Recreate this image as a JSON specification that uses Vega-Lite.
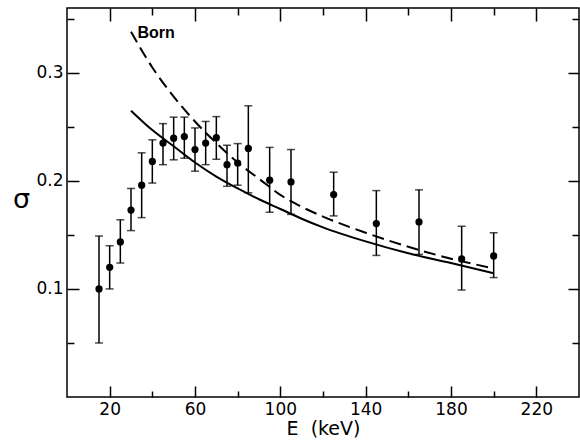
{
  "$schema": "https://vega.github.io/schema/vega-lite/v6.json",
  "width": 512,
  "height": 389,
  "autosize": {"type": "none"},
  "padding": {"left": 67, "top": 8, "right": 1, "bottom": 43},
  "background": "white",
  "config": {
    "view": {"stroke": "black", "strokeWidth": 1.5},
    "axis": {"domain": false, "grid": false, "tickColor": "black", "tickWidth": 1.5, "labelColor": "black", "labelFont": "DejaVu Sans", "labelFontSize": 17, "titleColor": "black", "titleFont": "DejaVu Sans", "titleFontWeight": "normal", "labelFlush": false, "labelOverlap": false}
  },
  "datasets": {
    "pts": [
      {"E": 15, "s": 0.100, "lo": 0.050, "hi": 0.149},
      {"E": 20, "s": 0.120, "lo": 0.100, "hi": 0.140},
      {"E": 25, "s": 0.1435, "lo": 0.124, "hi": 0.164},
      {"E": 30, "s": 0.173, "lo": 0.154, "hi": 0.193},
      {"E": 35, "s": 0.196, "lo": 0.166, "hi": 0.226},
      {"E": 40, "s": 0.218, "lo": 0.198, "hi": 0.238},
      {"E": 45, "s": 0.235, "lo": 0.215, "hi": 0.253},
      {"E": 50, "s": 0.2395, "lo": 0.2195, "hi": 0.259},
      {"E": 55, "s": 0.241, "lo": 0.221, "hi": 0.259},
      {"E": 60, "s": 0.229, "lo": 0.209, "hi": 0.249},
      {"E": 65, "s": 0.235, "lo": 0.215, "hi": 0.255},
      {"E": 70, "s": 0.240, "lo": 0.220, "hi": 0.2595},
      {"E": 75, "s": 0.215, "lo": 0.195, "hi": 0.233},
      {"E": 80, "s": 0.2165, "lo": 0.196, "hi": 0.2345},
      {"E": 85, "s": 0.230, "lo": 0.189, "hi": 0.2695},
      {"E": 95, "s": 0.2007, "lo": 0.171, "hi": 0.231},
      {"E": 105, "s": 0.199, "lo": 0.169, "hi": 0.229},
      {"E": 125, "s": 0.1873, "lo": 0.1676, "hi": 0.208},
      {"E": 145, "s": 0.1605, "lo": 0.131, "hi": 0.191},
      {"E": 165, "s": 0.162, "lo": 0.132, "hi": 0.1917},
      {"E": 185, "s": 0.1278, "lo": 0.099, "hi": 0.158},
      {"E": 200, "s": 0.1306, "lo": 0.1105, "hi": 0.152}
    ],
    "curves": [
      {"curve": "exact", "E": 30, "s": 0.265},
      {"curve": "exact", "E": 40, "s": 0.247},
      {"curve": "exact", "E": 50, "s": 0.232},
      {"curve": "exact", "E": 60, "s": 0.217},
      {"curve": "exact", "E": 70, "s": 0.204},
      {"curve": "exact", "E": 80, "s": 0.193},
      {"curve": "exact", "E": 90, "s": 0.183},
      {"curve": "exact", "E": 100, "s": 0.174},
      {"curve": "exact", "E": 110, "s": 0.165},
      {"curve": "exact", "E": 120, "s": 0.157},
      {"curve": "exact", "E": 140, "s": 0.144},
      {"curve": "exact", "E": 160, "s": 0.133},
      {"curve": "exact", "E": 180, "s": 0.124},
      {"curve": "exact", "E": 200, "s": 0.1145},
      {"curve": "Born", "E": 30, "s": 0.338},
      {"curve": "Born", "E": 40, "s": 0.305},
      {"curve": "Born", "E": 50, "s": 0.278},
      {"curve": "Born", "E": 60, "s": 0.255},
      {"curve": "Born", "E": 70, "s": 0.235},
      {"curve": "Born", "E": 80, "s": 0.217},
      {"curve": "Born", "E": 90, "s": 0.202},
      {"curve": "Born", "E": 100, "s": 0.187},
      {"curve": "Born", "E": 110, "s": 0.176},
      {"curve": "Born", "E": 120, "s": 0.167},
      {"curve": "Born", "E": 140, "s": 0.152},
      {"curve": "Born", "E": 160, "s": 0.139},
      {"curve": "Born", "E": 180, "s": 0.128},
      {"curve": "Born", "E": 200, "s": 0.119}
    ],
    "lbl": [{"E": 33, "s": 0.3365, "text": "Born"}]
  },
  "resolve": {"axis": {"x": "independent", "y": "independent"}},
  "layer": [
    {
      "data": {"name": "curves"},
      "transform": [{"filter": "datum.curve == 'exact'"}],
      "mark": {"type": "line", "color": "black", "strokeWidth": 2, "interpolate": "monotone"},
      "encoding": {
        "x": {"field": "E", "type": "quantitative", "scale": {"domain": [0, 240], "nice": false, "zero": false},
          "axis": {"orient": "bottom", "values": [20, 60, 100, 140, 180, 220], "tickSize": -11, "labelPadding": 15, "title": "E\u00a0\u00a0(keV)", "titleFontSize": 19, "titleY": 37, "titleBaseline": "alphabetic"}},
        "y": {"field": "s", "type": "quantitative", "scale": {"domain": [0, 0.36], "nice": false, "zero": false},
          "axis": {"orient": "left", "values": [0.1, 0.2, 0.3], "format": ".1f", "tickSize": -12, "labelPadding": 16, "title": "σ", "titleAngle": 0, "titleX": -46, "titleY": 191, "titleAlign": "center", "titleBaseline": "middle", "titleFontSize": 27}}
      }
    },
    {
      "data": {"name": "curves"},
      "transform": [{"filter": "datum.curve == 'Born'"}],
      "mark": {"type": "line", "color": "black", "strokeWidth": 2, "strokeDash": [12, 6], "interpolate": "monotone"},
      "encoding": {
        "x": {"field": "E", "type": "quantitative", "scale": {"domain": [0, 240], "nice": false, "zero": false},
          "axis": {"orient": "bottom", "values": [40, 80, 120, 160, 200], "tickSize": -6, "labels": false, "title": null}},
        "y": {"field": "s", "type": "quantitative", "scale": {"domain": [0, 0.36], "nice": false, "zero": false},
          "axis": {"orient": "left", "values": [0.05, 0.15, 0.25, 0.35], "tickSize": -7, "labels": false, "title": null}}
      }
    },
    {
      "data": {"name": "pts"},
      "mark": {"type": "rule", "color": "black", "strokeWidth": 1.5},
      "encoding": {
        "x": {"field": "E", "type": "quantitative", "scale": {"domain": [0, 240], "nice": false, "zero": false},
          "axis": {"orient": "top", "values": [20, 60, 100, 140, 180, 220], "tickSize": -13, "labels": false, "title": null}},
        "y": {"field": "lo", "type": "quantitative", "scale": {"domain": [0, 0.36], "nice": false, "zero": false},
          "axis": {"orient": "right", "values": [0.1, 0.2, 0.3], "tickSize": -11, "labels": false, "title": null}},
        "y2": {"field": "hi"}
      }
    },
    {
      "data": {"name": "pts"},
      "transform": [{"fold": ["lo", "hi"], "as": ["end", "v"]}],
      "mark": {"type": "tick", "color": "black", "orient": "horizontal", "size": 8, "thickness": 1.5},
      "encoding": {
        "x": {"field": "E", "type": "quantitative", "scale": {"domain": [0, 240], "nice": false, "zero": false},
          "axis": {"orient": "top", "values": [40, 80, 120, 160, 200], "tickSize": -7, "labels": false, "title": null}},
        "y": {"field": "v", "type": "quantitative", "scale": {"domain": [0, 0.36], "nice": false, "zero": false},
          "axis": {"orient": "right", "values": [0.05, 0.15, 0.25, 0.35], "tickSize": -7, "labels": false, "title": null}}
      }
    },
    {
      "data": {"name": "pts"},
      "mark": {"type": "circle", "color": "black", "size": 52, "opacity": 1},
      "encoding": {
        "x": {"field": "E", "type": "quantitative", "scale": {"domain": [0, 240], "nice": false, "zero": false}, "axis": null},
        "y": {"field": "s", "type": "quantitative", "scale": {"domain": [0, 0.36], "nice": false, "zero": false}, "axis": null}
      }
    },
    {
      "data": {"name": "lbl"},
      "mark": {"type": "text", "align": "left", "baseline": "middle", "font": "Liberation Sans", "fontWeight": "bold", "fontSize": 16, "color": "black"},
      "encoding": {
        "x": {"field": "E", "type": "quantitative", "scale": {"domain": [0, 240], "nice": false, "zero": false}, "axis": null},
        "y": {"field": "s", "type": "quantitative", "scale": {"domain": [0, 0.36], "nice": false, "zero": false}, "axis": null},
        "text": {"field": "text"}
      }
    }
  ]
}
